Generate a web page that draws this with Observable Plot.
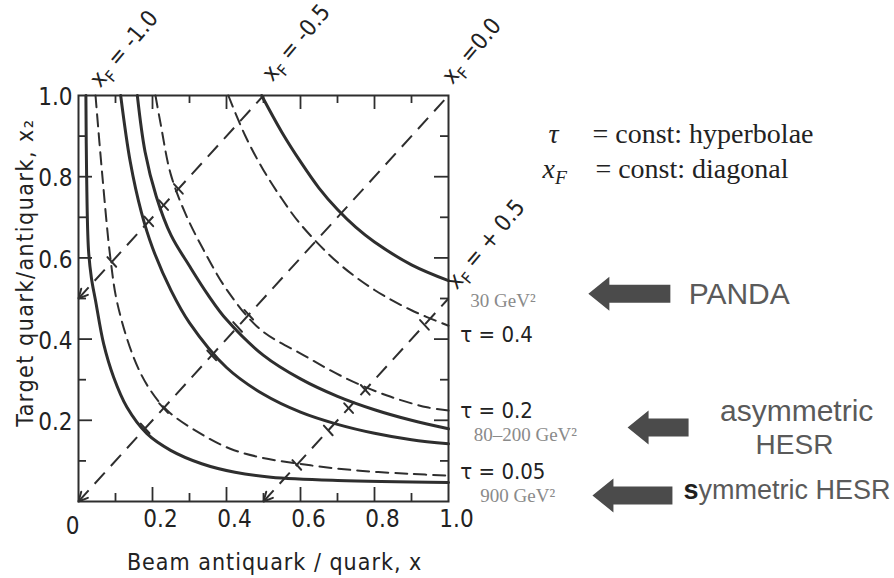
<!DOCTYPE html>
<html>
<head>
<meta charset="utf-8">
<script src="https://cdn.jsdelivr.net/npm/d3@7"></script>
<script src="https://cdn.jsdelivr.net/npm/@observablehq/plot@0.6"></script>
<style>
  html, body { margin: 0; padding: 0; background: #fff; }
  #chart svg { display: block; }
</style>
</head>
<body>
<div id="chart"></div>
<script>
// ---------------- data ----------------
const majorTicks = [0.2, 0.4, 0.6, 0.8];
const minorTicks = [0.1, 0.3, 0.5, 0.7, 0.9];
const xTickLabels = [0.2, 0.4, 0.6, 0.8, 1.0];
const yTickLabels = [0.2, 0.4, 0.6, 0.8, 1.0];

// solid curves: [x, x2]
const solid900 = [[0.02,1.0],[0.022,0.8],[0.027,0.62],[0.035,0.55],[0.046,0.495],[0.068,0.388],[0.095,0.306],[0.131,0.232],[0.185,0.167],[0.249,0.126],[0.333,0.093],[0.423,0.072],[0.52,0.06],[0.7,0.052],[1.0,0.047]];
const solid80 = [[0.114,1.0],[0.14,0.836],[0.17,0.712],[0.2,0.625],[0.25,0.52],[0.3,0.44],[0.4,0.33],[0.5,0.264],[0.6,0.22],[0.7,0.19],[0.8,0.168],[0.9,0.152],[1.0,0.142]];
const solid200 = [[0.159,1.0],[0.18,0.861],[0.21,0.752],[0.25,0.656],[0.3,0.58],[0.35,0.509],[0.4,0.448],[0.5,0.36],[0.6,0.302],[0.7,0.259],[0.8,0.226],[0.9,0.2],[1.0,0.179]];
const solid30 = [[0.495,1.0],[0.55,0.909],[0.6,0.837],[0.65,0.772],[0.7,0.719],[0.75,0.675],[0.8,0.639],[0.9,0.583],[1.0,0.544]];

// dashed tau = const curves: [x, x2]
const tau005 = [[0.046,1.0],[0.064,0.807],[0.086,0.601],[0.105,0.488],[0.149,0.355],[0.19,0.28],[0.24,0.224],[0.33,0.167],[0.41,0.13],[0.49,0.109],[0.627,0.089],[0.76,0.076],[0.897,0.068],[1.0,0.064]];
const tau02 = [[0.208,1.0],[0.222,0.93],[0.249,0.807],[0.289,0.709],[0.339,0.618],[0.402,0.52],[0.49,0.425],[0.609,0.36],[0.717,0.306],[0.834,0.261],[0.942,0.232],[1.0,0.224]];
const tau04 = [[0.405,1.0],[0.45,0.902],[0.5,0.816],[0.55,0.745],[0.6,0.683],[0.7,0.589],[0.8,0.521],[0.9,0.471],[1.0,0.433]];

// x_F = x - x2 diagonals
const xFValues = [-0.5, 0.0, 0.5];
// crossing marks on the diagonals: {xF, x}
const diagMarks = [
  {xF: 0, x: 0.18}, {xF: 0, x: 0.23}, {xF: 0, x: 0.36}, {xF: 0, x: 0.43}, {xF: 0, x: 0.46},
  {xF: -0.5, x: 0.09}, {xF: -0.5, x: 0.19}, {xF: -0.5, x: 0.23}, {xF: -0.5, x: 0.27},
  {xF: 0.5, x: 0.59}, {xF: 0.5, x: 0.675}, {xF: 0.5, x: 0.73}, {xF: 0.5, x: 0.775}, {xF: 0.5, x: 0.935}
];

// annotations
const xFLabels = [
  {label: "x_F = -1.0", x: 0.059, y: 1.017},
  {label: "x_F = -0.5", x: 0.524, y: 1.032},
  {label: "x_F =0.0", x: 1.011, y: 1.025},
  {label: "x_F = + 0.5", x: 1.022, y: 0.52}
];
const tauLabels = [
  {label: "τ = 0.4", x: 1.032, y: 0.411},
  {label: "τ = 0.2", x: 1.032, y: 0.222},
  {label: "τ = 0.05", x: 1.032, y: 0.074}
];
const energyLabels = [
  {label: "30 GeV²", x: 1.059, y: 0.495},
  {label: "80–200 GeV²", x: 1.068, y: 0.163},
  {label: "900 GeV²", x: 1.086, y: 0.013}
];
const facilityArrows = [
  {x: 1.378, y: 0.512, len: 82},
  {x: 1.484, y: 0.182, len: 61},
  {x: 1.389, y: 0.015, len: 80}
];
const facilityLabelsStart = [
  {label: "PANDA", x: 1.649, y: 0.51, size: 30},
  {label: "symmetric HESR", x: 1.635, y: 0.027, size: 27}
];
const facilityLabelsMiddle = [
  {label: "asymmetric", x: 1.941, y: 0.222, size: 30},
  {label: "HESR", x: 1.935, y: 0.138, size: 28}
];
const legendLines = [
  {sym: "τ", rest: "= const: hyperbolae", xs: 1.27, xr: 1.389, y: 0.906},
  {sym: "x_F", rest: "= const: diagonal", xs: 1.254, xr: 1.397, y: 0.82}
];

// ---------------- drawing ----------------
const W = 894, H = 578;
const mL = 78, mR = 446, mT = 95, mB = 77;
const pw = W - mL - mR, ph = H - mT - mB;
const ink = "#2e2e2e";
const narrow = "'Liberation Sans Narrow','DejaVu Sans Condensed',sans-serif";
const cond = "'DejaVu Sans Condensed','DejaVu Sans',sans-serif";
const serif = "'Liberation Serif','DejaVu Serif',serif";
const sans = "'Liberation Sans',Arial,sans-serif";

const diagAngle = Math.atan2(ph, pw) * 180 / Math.PI; // angle of the perpendicular to the diagonals
const headShape = {draw(ctx, l) { ctx.moveTo(-4.5, l); ctx.lineTo(0, 0); ctx.lineTo(4.5, l); }};
const crossShape = {draw(ctx, l) { ctx.moveTo(-l / 2, 0); ctx.lineTo(l / 2, 0); }};
const bigArrowShape = {draw(ctx, l) {
  const hl = 21, hw = 17, sw = 9;
  ctx.moveTo(0, 0); ctx.lineTo(hw, hl); ctx.lineTo(sw, hl); ctx.lineTo(sw, l);
  ctx.lineTo(-sw, l); ctx.lineTo(-sw, hl); ctx.lineTo(-hw, hl); ctx.closePath();
}};

const line = (data, dashed) => Plot.line(data, {
  x: d => d[0], y: d => d[1], curve: "catmull-rom",
  stroke: ink, strokeWidth: dashed ? 2 : 3,
  strokeDasharray: dashed ? "12,7" : null
});

const chart = Plot.plot({
  width: W, height: H,
  marginLeft: mL, marginRight: mR, marginTop: mT, marginBottom: mB,
  x: {domain: [0, 1], axis: null},
  y: {domain: [0, 1], axis: null},
  length: {type: "identity"},
  style: {background: "#fff", color: ink},
  marks: [
    // inward ticks on all four sides
    Plot.tickX(majorTicks, {x: d => d, insetTop: ph - 14, stroke: ink, strokeWidth: 1.8}),
    Plot.tickX(minorTicks, {x: d => d, insetTop: ph - 8, stroke: ink, strokeWidth: 1.8}),
    Plot.tickX(majorTicks, {x: d => d, insetBottom: ph - 14, stroke: ink, strokeWidth: 1.8}),
    Plot.tickX(minorTicks, {x: d => d, insetBottom: ph - 8, stroke: ink, strokeWidth: 1.8}),
    Plot.tickY(majorTicks, {y: d => d, insetRight: pw - 14, stroke: ink, strokeWidth: 1.8}),
    Plot.tickY(minorTicks, {y: d => d, insetRight: pw - 8, stroke: ink, strokeWidth: 1.8}),
    Plot.tickY(majorTicks, {y: d => d, insetLeft: pw - 14, stroke: ink, strokeWidth: 1.8}),
    Plot.tickY(minorTicks, {y: d => d, insetLeft: pw - 8, stroke: ink, strokeWidth: 1.8}),

    // diagonals x_F = const
    Plot.link(xFValues, {
      x1: f => Math.max(0, f), y1: f => Math.max(0, -f),
      x2: f => Math.min(1, 1 + f), y2: f => Math.min(1, 1 - f),
      stroke: ink, strokeWidth: 2, strokeDasharray: "15,9"
    }),
    Plot.vector(xFValues, {
      x: f => Math.max(0, f), y: f => Math.max(0, -f),
      length: 9, rotate: 180 + (90 - diagAngle), anchor: "start", shape: headShape,
      stroke: ink, strokeWidth: 2
    }),
    Plot.vector(diagMarks, {
      x: d => d.x, y: d => d.x - d.xF,
      length: 13, rotate: diagAngle, anchor: "start", shape: crossShape,
      stroke: ink, strokeWidth: 2
    }),

    // tau curves (dashed) and solid curves
    line(tau005, true), line(tau02, true), line(tau04, true),
    line(solid900, false), line(solid80, false), line(solid200, false), line(solid30, false),

    Plot.frame({stroke: ink, strokeWidth: 2}),

    // tick labels
    Plot.text(xTickLabels, {x: d => d, y: 0, text: d => d.toFixed(1), dx: 8, dy: 18,
      fontFamily: narrow, fontSize: 24, fill: "#222"}),
    Plot.text(["0"], {x: 0, y: 0, text: d => d, dx: -6, dy: 25,
      fontFamily: narrow, fontSize: 24, fill: "#222"}),
    Plot.text(yTickLabels, {x: 0, y: d => d, text: d => d.toFixed(1), dx: -6, dy: 2,
      textAnchor: "end", fontFamily: narrow, fontSize: 24, fill: "#222"}),

    // axis titles
    Plot.text(["Beam antiquark / quark, x"], {x: 0.53, y: -0.15, text: d => d,
      fontFamily: cond, fontSize: 23, fill: "#222"}),
    Plot.text(["Target quark/antiquark, x₂"], {x: -0.143, y: 0.564, text: d => d, rotate: -90,
      fontFamily: cond, fontSize: 23, fill: "#222"}),

    // x_F labels
    Plot.text(xFLabels, {x: "x", y: "y", text: "label", rotate: -50, textAnchor: "start",
      lineAnchor: "bottom", fontFamily: narrow, fontSize: 23, fill: "#222"}),

    // tau labels
    Plot.text(tauLabels, {x: "x", y: "y", text: "label", textAnchor: "start",
      fontFamily: narrow, fontSize: 22, fill: "#222"}),

    // energy labels
    Plot.text(energyLabels, {x: "x", y: "y", text: "label", textAnchor: "start",
      fontFamily: serif, fontSize: 19, fill: "#8a8a8a"}),

    // facility arrows and labels
    Plot.vector(facilityArrows, {x: "x", y: "y", length: "len", rotate: -90, anchor: "start",
      shape: bigArrowShape, fill: "#4b4b4b", stroke: "none"}),
    Plot.text(facilityLabelsStart, {x: "x", y: "y", text: "label", textAnchor: "start",
      fontSize: "size", fontFamily: sans, fill: "#5a5a5a"}),
    Plot.text(facilityLabelsMiddle, {x: "x", y: "y", text: "label", textAnchor: "middle",
      fontSize: "size", fontFamily: sans, fill: "#5a5a5a"}),

    // legend (top right)
    Plot.text(legendLines, {x: "xs", y: "y", text: "sym", textAnchor: "start",
      fontFamily: serif, fontStyle: "italic", fontSize: 28, fill: "#222"}),
    Plot.text(legendLines, {x: "xr", y: "y", text: "rest", textAnchor: "start",
      fontFamily: serif, fontSize: 28, fill: "#222"})
  ]
});

// subscripts for x_F, letter spacing for the axis titles
const ns = "http://www.w3.org/2000/svg";
chart.querySelectorAll("text").forEach(t => {
  const s = t.textContent;
  if (s.startsWith("Beam")) t.style.letterSpacing = "1px";
  if (s.startsWith("Target")) t.style.letterSpacing = "1.5px";
  if (s.startsWith("symmetric")) {
    while (t.firstChild) t.removeChild(t.firstChild);
    const first = document.createElementNS(ns, "tspan");
    first.setAttribute("fill", "#1e1e1e");
    first.setAttribute("font-weight", "bold");
    first.textContent = s.slice(0, 1);
    t.appendChild(first);
    t.appendChild(document.createTextNode(s.slice(1)));
    return;
  }
  if (!s.includes("_F")) return;
  const [pre, post] = s.split("_F");
  while (t.firstChild) t.removeChild(t.firstChild);
  t.appendChild(document.createTextNode(pre));
  const sub = document.createElementNS(ns, "tspan");
  sub.setAttribute("font-size", "70%");
  sub.setAttribute("dy", "6");
  sub.textContent = "F";
  t.appendChild(sub);
  const rest = document.createElementNS(ns, "tspan");
  rest.setAttribute("dy", "-6");
  rest.textContent = post;
  t.appendChild(rest);
});

document.getElementById("chart").appendChild(chart);
</script>
</body>
</html>
